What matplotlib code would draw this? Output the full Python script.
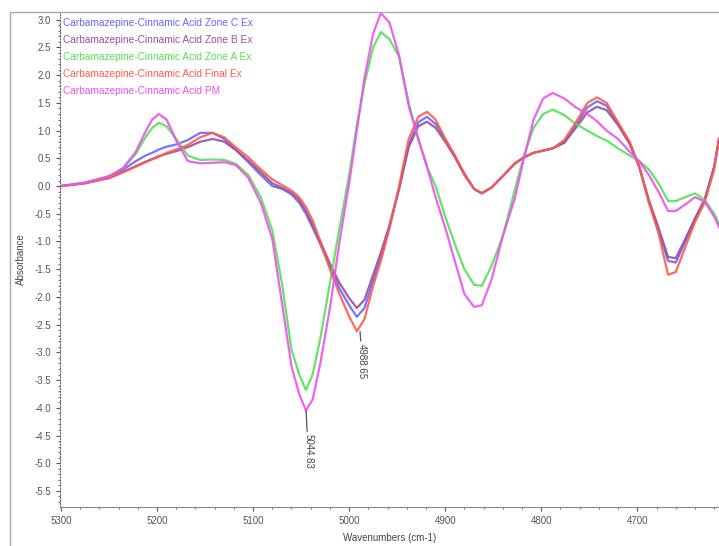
import numpy as np
import matplotlib
matplotlib.use('Agg')
import matplotlib.pyplot as plt
from matplotlib.patches import Rectangle

plt.rcParams['font.family'] = ['Liberation Sans', 'DejaVu Sans']

wavenumbers = [5300, 5275, 5250, 5235, 5222, 5212, 5205, 5198, 5190, 5180,
               5168, 5155, 5142, 5130, 5118, 5105, 5092, 5080, 5070, 5060,
               5052, 5045, 5038, 5030, 5020, 5010, 5000, 4992, 4984, 4975,
               4967, 4958, 4948, 4938, 4928, 4919, 4910, 4900, 4890, 4880,
               4870, 4862, 4852, 4840, 4828, 4818, 4808, 4798, 4788, 4776,
               4764, 4752, 4742, 4732, 4720, 4708, 4698, 4688, 4678, 4668,
               4660, 4650, 4640, 4630, 4620, 4615]

zone_c = [0.0, 0.06, 0.18, 0.3, 0.45, 0.55, 0.6, 0.66, 0.71, 0.75,
          0.83, 0.96, 0.96, 0.85, 0.66, 0.43, 0.2, 0.0, -0.05, -0.15,
          -0.3, -0.5, -0.75, -1.05, -1.45, -1.85, -2.15, -2.36, -2.2, -1.7,
          -1.3, -0.75, -0.05, 0.75, 1.15, 1.25, 1.12, 0.85, 0.55, 0.22,
          -0.05, -0.13, -0.03, 0.18, 0.4, 0.52, 0.6, 0.64, 0.68, 0.8,
          1.1, 1.42, 1.53, 1.45, 1.12, 0.78, 0.35, -0.28, -0.8, -1.35,
          -1.38, -1.0, -0.6, -0.25, 0.35, 0.85]

zone_b = [0.0, 0.05, 0.15, 0.26, 0.36, 0.44, 0.49, 0.54, 0.58, 0.63,
          0.7, 0.8, 0.85, 0.8, 0.65, 0.46, 0.25, 0.05, -0.03, -0.12,
          -0.25, -0.45, -0.7, -1.0, -1.4, -1.75, -2.02, -2.2, -2.05, -1.6,
          -1.2, -0.7, -0.05, 0.7, 1.08, 1.16, 1.05, 0.8, 0.52, 0.2,
          -0.05, -0.13, -0.03, 0.18, 0.4, 0.52, 0.6, 0.64, 0.68, 0.78,
          1.05, 1.33, 1.43, 1.37, 1.1, 0.76, 0.35, -0.25, -0.75, -1.28,
          -1.3, -0.95, -0.58, -0.25, 0.35, 0.85]

zone_a = [0.0, 0.06, 0.17, 0.33, 0.58, 0.88, 1.05, 1.14, 1.08, 0.85,
          0.55, 0.47, 0.48, 0.47, 0.4, 0.2, -0.2, -0.8, -1.75, -2.95,
          -3.4, -3.68, -3.4, -2.75, -1.75, -0.75, 0.2, 1.1, 1.85, 2.5,
          2.78, 2.65, 2.33, 1.5, 0.85, 0.35, 0.0, -0.55, -1.05, -1.5,
          -1.78, -1.8, -1.45, -0.9, -0.1, 0.55, 1.05, 1.3, 1.38, 1.28,
          1.12, 1.0, 0.9, 0.82, 0.68, 0.55, 0.45, 0.3, 0.05, -0.27,
          -0.27, -0.2, -0.13, -0.25, -0.5, -0.67]

final_ex = [0.0, 0.05, 0.14, 0.25, 0.35, 0.43, 0.48, 0.53, 0.6, 0.66,
            0.74, 0.88, 0.96, 0.88, 0.7, 0.52, 0.3, 0.12, 0.02, -0.08,
            -0.2, -0.38, -0.62, -1.0, -1.5, -1.95, -2.35, -2.62, -2.4, -1.8,
            -1.35, -0.75, 0.0, 0.85, 1.25, 1.34, 1.2, 0.85, 0.55, 0.22,
            -0.05, -0.13, -0.03, 0.18, 0.4, 0.52, 0.6, 0.64, 0.68, 0.83,
            1.15, 1.5, 1.6, 1.5, 1.15, 0.8, 0.35, -0.3, -0.85, -1.6,
            -1.55, -1.1, -0.65, -0.3, 0.3, 0.85]

pm = [0.0, 0.06, 0.17, 0.33, 0.62, 0.98, 1.2, 1.3, 1.2, 0.82,
      0.45, 0.41, 0.42, 0.43, 0.38, 0.15, -0.3, -0.95, -2.1, -3.25,
      -3.75, -4.05, -3.85, -3.2, -2.2, -1.0, 0.05, 1.0, 1.95, 2.75,
      3.12, 2.95, 2.35, 1.45, 0.85, 0.35, -0.2, -0.75, -1.35, -1.95,
      -2.18, -2.15, -1.7, -0.9, -0.25, 0.5, 1.2, 1.58, 1.68, 1.58,
      1.42, 1.3, 1.17, 1.0, 0.85, 0.62, 0.45, 0.2, -0.1, -0.45,
      -0.45, -0.33, -0.2, -0.28, -0.55, -0.74]

labels = ['Carbamazepine-Cinnamic Acid Zone C Ex',
          'Carbamazepine-Cinnamic Acid Zone B Ex',
          'Carbamazepine-Cinnamic Acid Zone A Ex',
          'Carbamazepine-Cinnamic Acid Final Ex',
          'Carbamazepine-Cinnamic Acid PM']
colors = ['#6666ff', '#9a4f9e', '#55e055', '#ff5a4a', '#f050f0']
series = [zone_c, zone_b, zone_a, final_ex, pm]

peak_labels = [5044.83, 4988.65]

fig = plt.figure(figsize=(7.19, 5.46), dpi=100)
ax = fig.add_axes([0.0834, 0.0714, 0.9166, 0.9066])

for y, c in zip(series, colors):
    ax.plot(wavenumbers, y, color=c, lw=1.6, alpha=0.9,
            solid_joinstyle='round')

ax.set_xlim(5301, 4615)
ax.set_ylim(-5.79, 3.14)
ax.set_xticks([5300, 5200, 5100, 5000, 4900, 4800, 4700])
ax.set_xticks(np.arange(4620, 5301, 20), minor=True)
ax.set_yticks(np.arange(-5.5, 3.01, 0.5))
ax.set_yticklabels(['%.1f' % v for v in np.arange(-5.5, 3.01, 0.5)])
ax.set_yticks(np.arange(-5.7, 3.1, 0.1), minor=True)
ax.tick_params(axis='both', which='major', labelsize=7, colors='#555555',
               length=3, width=0.8)
ax.tick_params(axis='both', which='minor', length=1.5, width=0.8,
               colors='#777777')
ax.spines['top'].set_visible(False)
ax.spines['right'].set_visible(False)
ax.spines['left'].set_linestyle(':')
ax.spines['left'].set_color('#666666')
ax.spines['bottom'].set_color('#888888')

ax.set_xlabel('Wavenumbers (cm-1)', fontsize=7, color='#444444', labelpad=5)
ax.set_ylabel('Absorbance', fontsize=7, color='#444444', labelpad=6)

# coloured legend text in the upper left
for i, (lab, c) in enumerate(zip(labels, colors)):
    ax.text(0.005, 0.988 - i * 0.0345, lab, transform=ax.transAxes,
            fontsize=7.3, color=c, va='top', ha='left')

# peak markers below the lowest curve
wn = np.array(wavenumbers)
for pk, off in zip(peak_labels, [-17, -9]):
    idx = np.argmin(np.abs(wn - pk))
    low = min(s[idx] for s in series)
    ax.annotate('%.2f' % pk, xy=(pk, low), xytext=(1.5, off),
                textcoords='offset points', rotation=-90, ha='center',
                va='top', fontsize=7, color='#444444',
                arrowprops=dict(arrowstyle='-', color='#555555', lw=0.9,
                                shrinkA=0, shrinkB=0))

fig.add_artist(Rectangle((10 / 719, -0.01), 1.0, 1 - 12 / 546 + 0.01,
                         transform=fig.transFigure, fill=False,
                         edgecolor='#aaaaaa', lw=1.0))

plt.savefig('out.png', dpi=100)
